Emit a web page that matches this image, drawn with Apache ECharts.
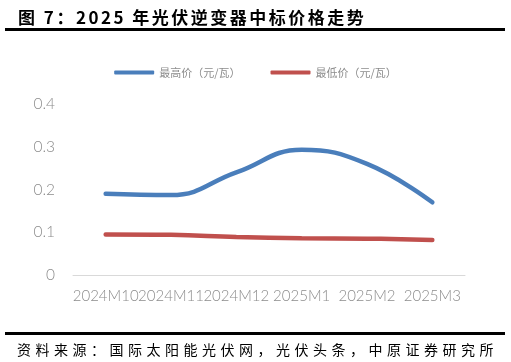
<!DOCTYPE html>
<html><head><meta charset="utf-8">
<script src="https://cdn.jsdelivr.net/npm/echarts@6/dist/echarts.min.js"></script>
<style>
html,body{margin:0;padding:0;background:#fff}
#wrap{position:relative;width:511px;height:362px}
#c{position:absolute;left:0;top:0;width:511px;height:362px}
.t{position:absolute;white-space:nowrap;font-family:"Noto Sans CJK SC",sans-serif;color:#000}
#title{left:18px;top:4px;font-size:17px;font-weight:bold;letter-spacing:2.5px}
#src{left:17px;top:339px;font-size:14px;letter-spacing:4.5px}
.rule{position:absolute;left:5px;width:500px;height:3px;background:#000}
</style>
</head><body><div id="wrap"><div id="c"></div>
<div class="t" id="title">图 7：2025 年光伏逆变器中标价格走势</div>
<div class="rule" style="top:28px"></div>
<div class="rule" style="top:332px"></div>
<div class="t" id="src">资料来源：国际太阳能光伏网，光伏头条，中原证券研究所</div>
</div>
<script>
const categories = ['2024M10','2024M11','2024M12','2025M1','2025M2','2025M3'];
const maxPrice = [0.19, 0.187, 0.24, 0.293, 0.26, 0.17];
const minPrice = [0.095, 0.094, 0.089, 0.086, 0.085, 0.082];
const yTicks = [0, 0.1, 0.2, 0.3, 0.4];
const seriesNames = ['最高价（元/瓦）', '最低价（元/瓦）'];

const chart = echarts.init(document.getElementById('c'), null, {renderer: 'canvas'});
const labelFont = 'Lato, "Noto Sans", sans-serif';
chart.setOption({
  animation: false,
  legend: {
    top: 62, left: 'center',
    itemWidth: 40, itemHeight: 4, itemGap: 30,
    icon: 'roundRect',
    textStyle: {color:'#8c8c8c', fontSize: 11, fontFamily:'"Noto Sans CJK SC", sans-serif'},
    data: seriesNames
  },
  grid: {left: 73, right: 46, top: 104, bottom: 87},
  xAxis: {
    type: 'category', data: categories, boundaryGap: true,
    axisLine: {lineStyle:{color:'#d9d9d9', width:1}},
    axisTick: {show:false},
    axisLabel: {interval:0, color:'#8c8c8c', fontSize: 15, fontWeight: 300, fontFamily: labelFont, margin: 14}
  },
  yAxis: {
    type: 'value', min: 0, max: 0.4, interval: 0.1,
    axisLine: {show:false}, axisTick: {show:false}, splitLine: {show:false},
    axisLabel: {color:'#8c8c8c', fontSize: 15.5, fontWeight: 300, fontFamily: labelFont, margin: 18,
      formatter: v => { const t = yTicks.find(x => Math.abs(x - v) < 1e-9); return t === 0 ? '0' : String(t); }}
  },
  series: [
    {name: seriesNames[0], type:'line', data: maxPrice, smooth: 0.45, symbol:'none',
     lineStyle:{color:'#4a7ebb', width:4.5, cap:'round'}, itemStyle:{color:'#4a7ebb'}},
    {name: seriesNames[1], type:'line', data: minPrice, smooth: 0.45, symbol:'none',
     lineStyle:{color:'#c0504d', width:4.5, cap:'round'}, itemStyle:{color:'#c0504d'}}
  ]
});
</script></body></html>
